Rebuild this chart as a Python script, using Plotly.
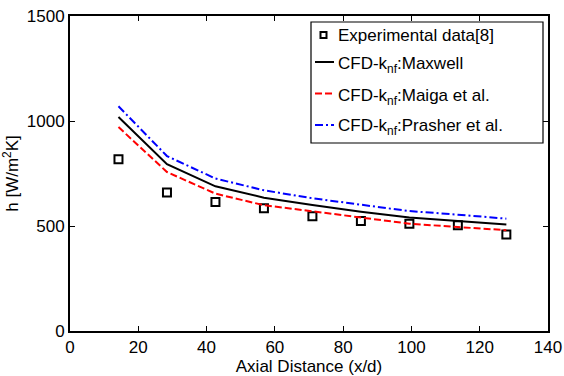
import plotly.graph_objects as go

x_d = [14.2, 28.4, 42.6, 56.8, 71.0, 85.2, 99.4, 113.6, 127.8]
h_exp = [818, 659, 614, 585, 546, 524, 511, 503, 459]
h_maxwell = [1019, 794, 689, 635, 600, 568, 540, 522, 507]
h_maiga = [971, 757, 654, 599, 570, 540, 511, 495, 480]
h_prasher = [1070, 833, 726, 670, 632, 603, 571, 554, 535]

legend_labels = ["Experimental data[8]", "CFD-k<sub>nf</sub>:Maxwell",
                 "CFD-k<sub>nf</sub>:Maiga et al.", "CFD-k<sub>nf</sub>:Prasher et al."]

FONT = "Liberation Sans, Arial, sans-serif"
W, H = 564, 376
ML, MR, MT, MB = 70, 16, 16, 45
PW, PH = W - ML - MR, H - MT - MB

def px(xp):
    return (xp - ML) / PW

def py(yp):
    return (H - MB - yp) / PH

RED_DASH = "7px,3px"
BLUE_DASHDOT = "8px,3px,2px,3px"

fig = go.Figure()
fig.add_trace(go.Scatter(x=x_d, y=h_exp, mode="markers", name=legend_labels[0],
                         marker=dict(symbol="square-open", size=8, color="black",
                                     line=dict(width=2, color="black"))))
fig.add_trace(go.Scatter(x=x_d, y=h_maxwell, mode="lines", name=legend_labels[1],
                         line=dict(color="black", width=2)))
fig.add_trace(go.Scatter(x=x_d, y=h_maiga, mode="lines", name=legend_labels[2],
                         line=dict(color="red", width=2, dash=RED_DASH)))
fig.add_trace(go.Scatter(x=x_d, y=h_prasher, mode="lines", name=legend_labels[3],
                         line=dict(color="blue", width=2, dash=BLUE_DASHDOT)))

axis_common = dict(showgrid=False, zeroline=False, showline=True, linecolor="black",
                   linewidth=1.8, mirror="ticks", ticks="inside", ticklen=5,
                   tickcolor="black", tickwidth=1, automargin=False,
                   tickfont=dict(family=FONT, size=17, color="black"))

# manual legend (box, samples, labels) in paper coordinates
shapes = [dict(type="rect", xref="paper", yref="paper",
               x0=px(311), x1=px(543), y0=py(22), y1=py(143),
               line=dict(color="black", width=1.2), fillcolor="white", layer="above")]
shapes.append(dict(type="rect", xref="paper", yref="paper",
                   x0=px(320.5), x1=px(326.5), y0=py(32), y1=py(38),
                   line=dict(color="black", width=2), layer="above"))
sample_specs = [(62, "black", "solid"), (93.5, "red", RED_DASH), (125, "blue", BLUE_DASHDOT)]
for yy, col, dash in sample_specs:
    shapes.append(dict(type="line", xref="paper", yref="paper",
                       x0=px(315), x1=px(334), y0=py(yy), y1=py(yy),
                       line=dict(color=col, width=2, dash=dash), layer="above"))

text_y = [35, 65, 96.5, 127.5]
annotations = []
for lab, yy in zip(legend_labels, text_y):
    annotations.append(dict(text=lab, xref="paper", yref="paper", x=px(335.5), y=py(yy),
                            xanchor="left", yanchor="middle", showarrow=False,
                            font=dict(family=FONT, size=17, color="black")))

fig.update_layout(
    width=W, height=H,
    margin=dict(l=ML, r=MR, t=MT, b=MB),
    paper_bgcolor="white", plot_bgcolor="white",
    font=dict(family=FONT, size=17, color="black"),
    xaxis=dict(range=[0, 140], tickvals=[0, 20, 40, 60, 80, 100, 120, 140],
               title=dict(text="Axial Distance (x/d)", standoff=4,
                          font=dict(family=FONT, size=17, color="black")),
               **axis_common),
    yaxis=dict(range=[0, 1500], tickvals=[0, 500, 1000, 1500],
               title=dict(text="h [W/m<sup>2</sup>K]", standoff=6,
                          font=dict(family=FONT, size=17, color="black")),
               **axis_common),
    showlegend=False,
    shapes=shapes,
    annotations=annotations,
)

fig.write_html("out.html")
